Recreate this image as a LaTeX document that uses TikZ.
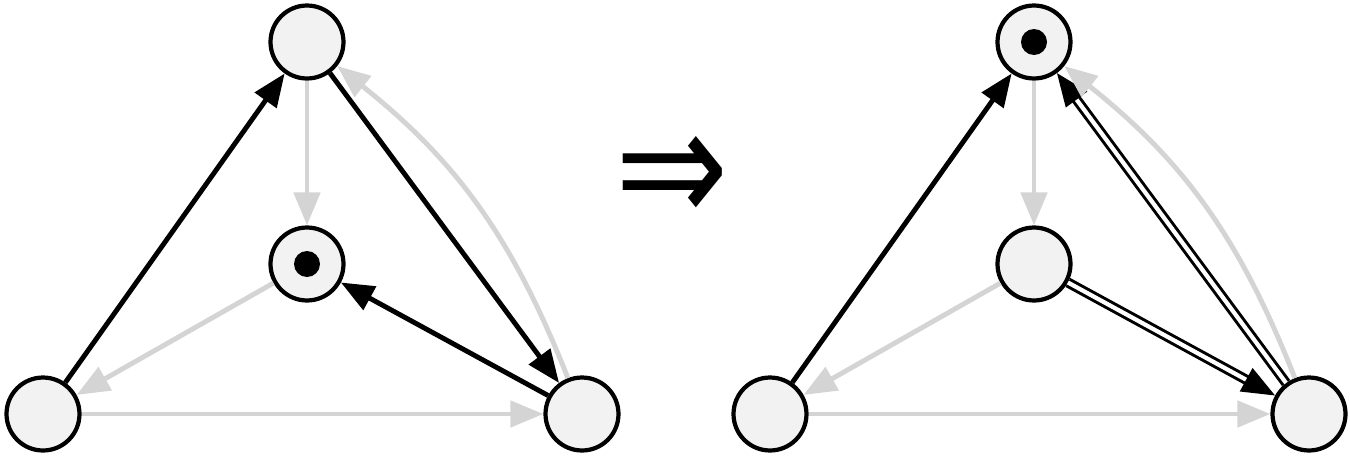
\documentclass[tikz,border=0pt]{standalone}
\usepackage{amsmath}
\usepackage{fontspec}
\usepackage{tikz}
\usetikzlibrary{arrows.meta,positioning}
\newfontfamily\symfont{DejaVu Sans}
\definecolor{palegray}{RGB}{212,212,212}
\definecolor{vtxfill}{RGB}{242,242,242}
\tikzset{
  vtx/.style = {circle, draw, line width=2.4pt, fill=vtxfill, minimum size=1.46cm, inner sep=0pt},
  tok/.style = {circle, fill=black, minimum size=0.52cm, inner sep=0pt},
  dark/.style = {line width=2.8pt, -{Triangle[length=0.66cm,width=0.52cm]}},
  pale/.style = {palegray, line width=2.8pt, -{Triangle[length=0.66cm,width=0.52cm]}},
  twin/.style = {double, line width=1.7pt, double distance=2.4pt, -{Triangle[length=0.66cm,width=0.52cm]}}
}
\begin{document}
\begin{tikzpicture}[x=0.02cm, y=-0.02cm]
\useasboundingbox (0,0) rectangle (1350,457);
% the two graphs, before and after
\foreach \g/\dx in {a/0,b/727}{
  \node[vtx] (\g top) at (307+\dx,42) {};
  \node[vtx] (\g mid) at (307+\dx,264) {};
  \node[vtx] (\g bl) at (43+\dx,414) {};
  \node[vtx] (\g br) at (582+\dx,414) {};
}
\node[tok] (adot) at (amid) {};
\node[tok] (bdot) at (btop) {};
%left
\draw[dark] (abl) -- (atop);
\draw[dark] (atop) -- (abr);
\draw[dark] (abr) -- (amid);
\draw[pale] (atop) -- (amid);
\draw[pale] (amid) -- (abl);
\draw[pale] (abl) -- (abr);
\draw[pale] (abr) to[bend right=15] (atop);
%right
\draw[dark] (bbl) -- (btop);
\draw[twin] (bmid) -- (bbr);
\draw[twin] (bbr) -- (btop);
\draw[pale] (btop) -- (bmid);
\draw[pale] (bmid) -- (bbl);
\draw[pale] (bbl) -- (bbr);
\draw[pale] (bbr) to[bend right=15] (btop);
\node[inner sep=0pt] (imp) at (672,180) {\scalebox{1.07}[1.32]{\symfont\fontsize{72}{72}\selectfont ⇒}};
\end{tikzpicture}
\end{document}
